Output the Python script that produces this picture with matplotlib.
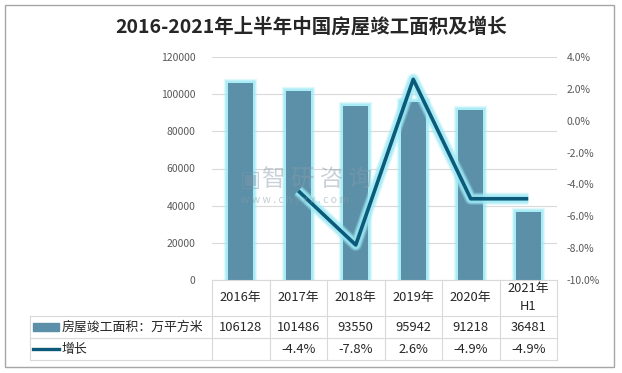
import numpy as np
import matplotlib
matplotlib.use("Agg")
import matplotlib.pyplot as plt
import matplotlib.patheffects as pe
from matplotlib.patches import Rectangle
from matplotlib.lines import Line2D
from matplotlib.ticker import FuncFormatter

plt.rcParams['font.family'] = ['Noto Sans CJK SC', 'DejaVu Sans']

years = ["2016年", "2017年", "2018年", "2019年", "2020年", "2021年\nH1"]
area = [106128, 101486, 93550, 95942, 91218, 36481]
growth = [None, -4.4, -7.8, 2.6, -4.9, -4.9]
area_label = "房屋竣工面积：万平方米"
growth_label = "增长"
title = "2016-2021年上半年中国房屋竣工面积及增长"

bar_color = "#5B90A8"
line_color = "#0B5A7A"
glow = "#9EEAF5"
grid_color = "#D9D9D9"
text_color = "#595959"

fig = plt.figure(figsize=(6.22, 3.73), dpi=100)
W, H = 622, 373
ax = fig.add_axes([212 / W, 1 - 280 / H, 345 / W, 223 / H])
ax2 = ax.twinx()

glow_fx = lambda w: [pe.Stroke(linewidth=w + 3, foreground=glow, alpha=0.25),
                     pe.Stroke(linewidth=w + 1.5, foreground=glow, alpha=0.45),
                     pe.Stroke(linewidth=w, foreground=glow, alpha=0.7),
                     pe.Normal()]

x = np.arange(len(years))
bars = ax.bar(x, area, width=0.44, color=bar_color, zorder=2)
for b in bars:
    b.set_path_effects(glow_fx(3))
ax.set_xlim(-0.5, len(years) - 0.5)
ax.set_ylim(0, 120000)
ax.set_yticks(range(0, 120001, 20000))
ax.grid(axis="y", color=grid_color, linewidth=0.8, zorder=0)
ax.set_axisbelow(True)
ax.set_xticks([])
ax.tick_params(axis="y", length=0, pad=12, labelsize=7.5, labelcolor=text_color)
for s in ax.spines.values():
    s.set_visible(False)

gx = [i for i, g in enumerate(growth) if g is not None]
gy = [g for g in growth if g is not None]
ax2.plot(gx, gy, color=line_color, linewidth=2.6, solid_capstyle="butt", zorder=3,
         path_effects=glow_fx(6))
ax2.set_ylim(-10, 4)
ax2.set_yticks(np.arange(-10, 4.1, 2))
ax2.yaxis.set_major_formatter(FuncFormatter(lambda v, p: "%.1f%%" % v))
ax2.tick_params(axis="y", length=0, pad=7, labelsize=7.5, labelcolor=text_color)
for s in ax2.spines.values():
    s.set_visible(False)

# watermark
fig.text(240 / W, 1 - 180 / H, "▣", fontsize=16, color="#7F95AA", alpha=0.45,
         va="center", ha="left", family='DejaVu Sans', zorder=10)
fig.text(262 / W, 1 - 180 / H, "智 研 咨 询", fontsize=17, color="#8A9BAA", alpha=0.45,
         va="center", ha="left", zorder=10)
fig.text(241 / W, 1 - 200 / H, "w w w . c h y x x . c o m", fontsize=7.5, color="#8A9BAA",
         alpha=0.5, va="center", ha="left", zorder=10)

# data table below the plot
tr = ax.get_xaxis_transform()
y_top, y_hdr, y_r1, y_bot = 0.0, -0.161, -0.262, -0.36
x_left = -0.5 - 182 / 345 * len(years)
lkw = dict(color=grid_color, linewidth=0.8, transform=tr, clip_on=False)
ax.add_line(Line2D([-0.5, len(years) - 0.5], [y_top, y_top], **lkw))
for yy in (y_hdr, y_r1, y_bot):
    ax.add_line(Line2D([x_left, len(years) - 0.5], [yy, yy], **lkw))
ax.add_line(Line2D([x_left, x_left], [y_hdr, y_bot], **lkw))
for i in range(len(years) + 1):
    ax.add_line(Line2D([i - 0.5, i - 0.5], [y_top, y_bot], **lkw))

tkw = dict(transform=tr, ha="center", va="center", fontsize=9.3, color="#262626", clip_on=False)
for i, lab in enumerate(years):
    ax.text(i, (y_top + y_hdr) / 2, lab, linespacing=1.5, **tkw)
    ax.text(i, (y_hdr + y_r1) / 2, str(area[i]), **tkw)
    if growth[i] is not None:
        ax.text(i, (y_r1 + y_bot) / 2, "%.1f%%" % growth[i], **tkw)

# legend keys in the table
kx = x_left + 0.05
ax.add_patch(Rectangle((kx, (y_hdr + y_r1) / 2 - 0.018), 0.45, 0.036, transform=tr,
                       color=bar_color, clip_on=False))
ax.add_line(Line2D([kx, kx + 0.45], [(y_r1 + y_bot) / 2] * 2, color=line_color,
                   linewidth=2.4, transform=tr, clip_on=False))
ax.text(kx + 0.5, (y_hdr + y_r1) / 2, area_label, transform=tr, ha="left", va="center",
        fontsize=9.3, color="#262626", clip_on=False)
ax.text(kx + 0.5, (y_r1 + y_bot) / 2, growth_label, transform=tr, ha="left", va="center",
        fontsize=9.3, color="#262626", clip_on=False)

fig.text(0.5, 1 - 27 / H, title, ha="center", va="center", fontsize=14,
         fontweight="bold", color="#262626")

fig.patches.append(Rectangle((5 / W, 1 - 367 / H), 609 / W, 362 / H, transform=fig.transFigure,
                             fill=False, edgecolor="#A6A6A6", linewidth=1))

fig.savefig("out.png", dpi=100)
